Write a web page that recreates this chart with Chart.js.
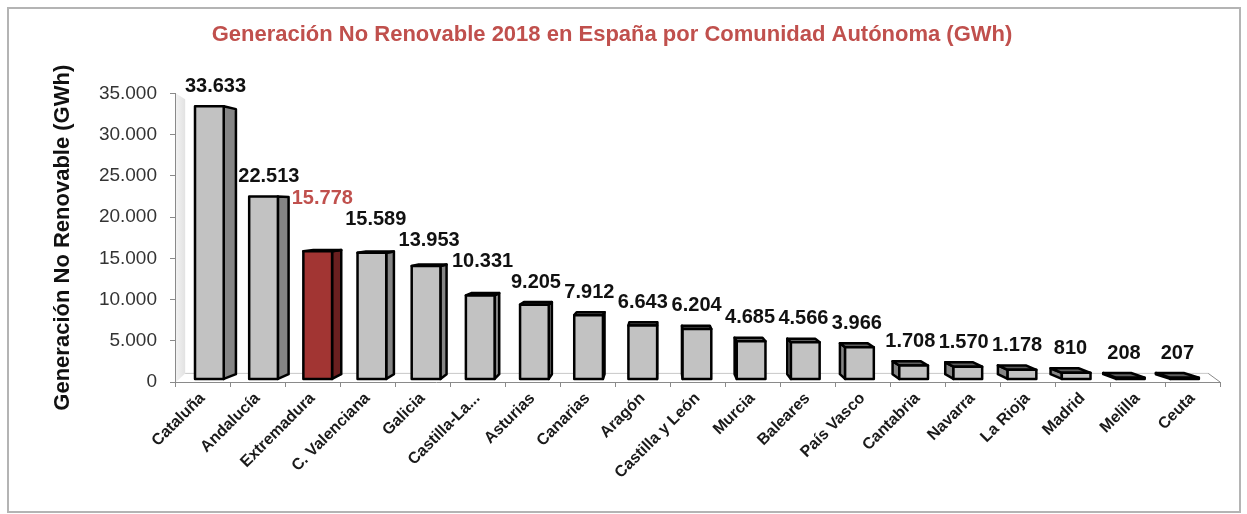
<!DOCTYPE html>
<html lang="es">
<head>
<meta charset="utf-8">
<title>Generación No Renovable 2018</title>
<script src="https://cdn.jsdelivr.net/npm/chart.js@4.4.1/dist/chart.umd.min.js"></script>
<style>
  html, body { margin: 0; padding: 0; background: #fff; }
  canvas { display: block; }
</style>
</head>
<body>
<canvas id="gen-chart" width="1247" height="514"></canvas>
<script>
const comunidades = ['Cataluña', 'Andalucía', 'Extremadura', 'C. Valenciana', 'Galicia', 'Castilla-La...',
  'Asturias', 'Canarias', 'Aragón', 'Castilla y León', 'Murcia', 'Baleares', 'País Vasco',
  'Cantabria', 'Navarra', 'La Rioja', 'Madrid', 'Melilla', 'Ceuta'];
const generacion = [33633, 22513, 15778, 15589, 13953, 10331, 9205, 7912, 6643, 6204,
  4685, 4566, 3966, 1708, 1570, 1178, 810, 208, 207];
const yTicks = [0, 5000, 10000, 15000, 20000, 25000, 30000, 35000];
const destacada = 'Extremadura';

const FONT = "'Liberation Sans', Arial, sans-serif";
const rojo = '#c0504d';

// 33633 -> "33.633"
function miles(n) {
  return String(n).replace(/\B(?=(\d{3})+(?!\d))/g, '.');
}

// perspectiva: todo se encoge hacia el punto de fuga
const fuga = { x: 660, y: 210 };
const kFrente = 0.015;   // cara frontal de las barras, a media profundidad
const kFondo = 0.028;    // profundidad de cada barra
function hacia(p, kx, ky) {
  return { x: fuga.x + (1 - kx) * (p.x - fuga.x), y: fuga.y + (1 - ky) * (p.y - fuga.y) };
}

function poligono(ctx, pts, relleno) {
  ctx.beginPath();
  ctx.moveTo(pts[0].x, pts[0].y);
  for (let i = 1; i < pts.length; i++) ctx.lineTo(pts[i].x, pts[i].y);
  ctx.closePath();
  ctx.fillStyle = relleno;
  ctx.fill();
  ctx.stroke();
}

const escena3d = {
  id: 'escena3d',
  beforeDraw(chart) {
    const { ctx, chartArea: a } = chart;
    ctx.save();
    ctx.fillStyle = '#fff';
    ctx.fillRect(0, 0, chart.width, chart.height);
    ctx.strokeStyle = '#b4b4b4';
    ctx.lineWidth = 2;
    ctx.strokeRect(8, 8, 1232, 504);

    // pared lateral izquierda
    const p0 = { x: a.left, y: a.top }, p1 = { x: a.left, y: a.bottom };
    const q0 = hacia(p0, 0.021, 0.05), q1 = hacia(p1, 0.021, 0.05);
    const g = ctx.createLinearGradient(a.left, 0, q0.x, 0);
    g.addColorStop(0, '#f4f4f4');
    g.addColorStop(1, '#e2e2e2');
    ctx.beginPath();
    ctx.moveTo(p0.x + 1, p0.y); ctx.lineTo(q0.x, q0.y); ctx.lineTo(q1.x, q1.y); ctx.lineTo(p1.x + 1, p1.y);
    ctx.closePath();
    ctx.fillStyle = g;
    ctx.fill();

    // fondo del suelo
    const r1 = hacia({ x: a.right, y: a.bottom }, 0.021, 0.05);
    ctx.beginPath();
    ctx.moveTo(q1.x, q1.y); ctx.lineTo(r1.x, r1.y);
    ctx.strokeStyle = '#c8c8c8';
    ctx.lineWidth = 1;
    ctx.stroke();
    ctx.beginPath();
    ctx.moveTo(r1.x, r1.y); ctx.lineTo(a.right, a.bottom);
    ctx.strokeStyle = '#8a8a8a';
    ctx.stroke();
    ctx.restore();
  },
  beforeDatasetsDraw(chart) {
    const { ctx } = chart;
    const meta = chart.getDatasetMeta(0);
    const ds = chart.data.datasets[0];
    const etiquetas = [];
    ctx.save();
    ctx.strokeStyle = '#000';
    ctx.lineWidth = 2.5;
    ctx.lineJoin = 'round';
    ctx.font = 'bold 20px ' + FONT;
    meta.data.forEach((bar, i) => {
      const { x, y, base, width } = bar.getProps(['x', 'y', 'base', 'width'], true);
      const f = [
        { x: x - width / 2, y: y }, { x: x + width / 2, y: y },
        { x: x + width / 2, y: base }, { x: x - width / 2, y: base }
      ].map(p => hacia(p, kFrente, kFrente));
      const b = f.map(p => hacia(p, kFondo, kFondo));
      const esRoja = comunidades[i] === destacada;
      const lado = esRoja ? '#6a1f1f' : '#858585';
      const techo = esRoja ? '#5a1a1a' : '#5e5e5e';

      if (b[1].x > f[1].x) poligono(ctx, [f[1], b[1], b[2], f[2]], lado);
      if (b[0].x < f[0].x) poligono(ctx, [f[0], b[0], b[3], f[3]], lado);
      if (b[0].y < f[0].y) poligono(ctx, [f[0], f[1], b[1], b[0]], techo);
      poligono(ctx, f, ds.backgroundColor[i]);

      const texto = miles(generacion[i]);
      etiquetas.push({
        texto,
        color: esRoja ? rojo : '#111',
        x: (Math.min(f[0].x, b[0].x) + Math.max(f[1].x, b[1].x)) / 2,
        y: Math.min(f[0].y, b[0].y) - 20,
        w: ctx.measureText(texto).width
      });
    });

    // de derecha a izquierda: si una etiqueta pisa a la siguiente, se sube
    const alto = 21;
    for (let i = etiquetas.length - 2; i >= 0; i--) {
      const e = etiquetas[i], s = etiquetas[i + 1];
      const pisa = Math.abs(e.x - s.x) < (e.w + s.w) / 2 + 2 && Math.abs(e.y - s.y) < alto;
      if (pisa) e.y = Math.min(e.y, s.y - alto);
    }
    ctx.textAlign = 'center';
    ctx.textBaseline = 'middle';
    etiquetas.forEach(e => {
      ctx.fillStyle = e.color;
      ctx.fillText(e.texto, e.x, e.y);
    });
    ctx.restore();
    return false;
  }
};

const chart = new Chart(document.getElementById('gen-chart'), {
  type: 'bar',
  data: {
    labels: comunidades,
    datasets: [{
      label: 'Generación No Renovable (GWh)',
      data: generacion,
      backgroundColor: comunidades.map(c => c === destacada ? '#a23533' : '#c2c2c2'),
      barPercentage: 0.53,
      categoryPercentage: 1
    }]
  },
  options: {
    responsive: false,
    animation: false,
    devicePixelRatio: 1,
    layout: { padding: { left: 4, right: 27, top: 0, bottom: 0 } },
    plugins: {
      legend: { display: false },
      tooltip: { enabled: false },
      title: {
        display: true,
        text: 'Generación No Renovable 2018 en España por Comunidad Autónoma (GWh)',
        color: rojo,
        font: { family: FONT, size: 22, weight: 'bold' },
        padding: { top: 22, bottom: 45 }
      }
    },
    scales: {
      x: {
        grid: { drawOnChartArea: false, drawTicks: true, tickLength: 5, color: '#8a8a8a', offset: true },
        border: { color: '#8a8a8a' },
        ticks: {
          autoSkip: false, minRotation: 45, maxRotation: 45, padding: 2,
          color: '#1a1a1a', font: { family: FONT, size: 16, weight: 'bold' }
        },
        afterFit(s) { s.height = 132; }
      },
      y: {
        min: 0,
        max: 35000,
        afterBuildTicks(s) { s.ticks = yTicks.map(v => ({ value: v })); },
        grid: { drawOnChartArea: false, tickLength: 5, color: '#8a8a8a' },
        border: { color: '#8a8a8a' },
        ticks: { callback: v => miles(v), color: '#333', font: { family: FONT, size: 19 }, padding: 13 },
        title: {
          display: true,
          text: 'Generación No Renovable (GWh)',
          color: '#111',
          font: { family: FONT, size: 22, weight: 'bold' },
          padding: { top: 46, bottom: 0 }
        },
        afterFit(s) { s.width = 171; }
      }
    }
  },
  plugins: [escena3d]
});
</script>
</body>
</html>
